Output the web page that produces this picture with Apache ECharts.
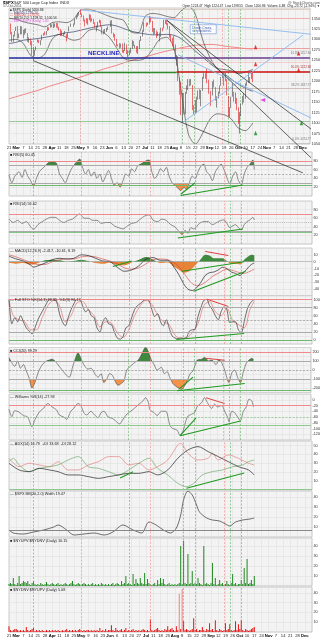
<!DOCTYPE html>
<html><head><meta charset="utf-8">
<script src="https://cdn.jsdelivr.net/npm/echarts@6/dist/echarts.min.js"></script>
<style>html,body{margin:0;padding:0;background:#fff}#c{width:323px;height:640px}</style>
</head><body><div id="c"></div>
<script>
// ---------- DATA ----------
// trading-day index: 5 per week, week 0 = week of 21 Feb 2011 (null = holiday)
const weekLabels = ['21','Mar','7','14','21','28','Apr','11','18','25','May','9','16','23','Jun','6','13','20','27','Jul','11','18','25','Aug','8','15','22','29','Sep','12','19','26','Oct','10','17','24','Nov','7','14','21','28','Dec',''];
const monthNames = ['Mar','Apr','May','Jun','Jul','Aug','Sep','Oct','Nov','Dec'];

const opens = [
 null,1338,1315,1307,1307, 1321,1328,1306,1312,1330, 1322,1311,1322,1315,1295, 1301,1295,1280,1262,1274,
 1293,1298,1293,1298,1311, 1315,1310,1320,1328,1329, 1333,1333,1333,1336,1334, 1329,1324,1314,1312,1314,
 1313,1305,1319,1330,null, 1337,1335,1348,1356,1360, 1365,1361,1356,1347,1343, 1340,1346,1358,1343,1349,
 1337,1328,1329,1341,1343, 1331,1317,1316,1321,1325, null,1331,1345,1314,1313, 1300,1286,1285,1280,1289,
 1271,1272,1287,1266,1268, 1272,1279,1296,1283,1283, 1268,1280,1297,1307,1321, null,1339,1338,1339,1353,
 1344,1319,1314,1318,1309, 1316,1306,1327,1326,1344, 1345,1337,1332,1305,1301, 1292,1287,1254,1260,1201,
 1199,1121,1172,1121,1172, 1179,1204,1193,1190,1141, 1124,1124,1162,1177,1159, 1177,1210,1213,1219,1204,
 null,1174,1166,1198,1186, 1154,1162,1173,1189,1209, 1214,1205,1203,1164,1136, 1137,1163,1175,1151,1160,
 1131,1098,1124,1144,1165, 1158,1195,1196,1207,1204, 1225];
const closes = [
 null,1315,1307,1306,1320, 1327,1306,1308,1331,1321, 1310,1322,1320,1295,1304, 1296,1282,1257,1274,1279,
 1298,1294,1298,1310,1314, 1310,1319,1328,1326,1332, 1333,1333,1336,1334,1328, 1324,1314,1314,1315,1320,
 1305,1313,1330,1337,null, 1335,1347,1356,1360,1364, 1361,1357,1347,1335,1340, 1346,1357,1342,1349,1338,
 1329,1329,1341,1344,1333, 1317,1316,1320,1326,1331, null,1345,1315,1313,1300, 1286,1285,1280,1289,1271,
 1272,1288,1265,1268,1272, 1278,1296,1287,1284,1268, 1280,1297,1307,1321,1340, null,1338,1339,1353,1344,
 1319,1314,1318,1309,1316, 1305,1327,1326,1344,1345, 1337,1332,1305,1301,1292, 1287,1254,1260,1200,1199,
 1119,1173,1121,1173,1179, 1204,1193,1194,1141,1124, 1124,1162,1178,1159,1177, 1210,1213,1219,1204,1174,
 null,1165,1199,1186,1154, 1162,1173,1189,1209,1216, 1204,1202,1167,1130,1136, 1163,1175,1151,1160,1131,
 1099,1124,1144,1165,1155, 1195,1196,1207,1204,1225, 1201];
const highs = [
 null,1338,1318,1311,1320, 1330,1332,1314,1332,1331, 1323,1325,1327,1315,1305, 1302,1296,1282,1275,1283,
 1300,1299,1298,1311,1315, 1319,1320,1330,1329,1338, 1336,1339,1338,1339,1339, 1330,1325,1321,1316,1320,
 1313,1315,1331,1338,null, 1338,1349,1357,1362,1365, 1371,1362,1357,1348,1351, 1350,1360,1359,1350,1349,
 1341,1333,1342,1347,1346, 1331,1323,1325,1327,1331, null,1345,1346,1316,1313, 1301,1288,1291,1290,1290,
 1275,1292,1288,1274,1275, 1280,1298,1296,1287,1284, 1284,1298,1308,1322,1341, null,1340,1340,1356,1354,
 1344,1327,1327,1321,1318, 1316,1328,1328,1347,1347, 1345,1339,1332,1312,1304, 1308,1288,1263,1260,1209,
 1199,1173,1172,1174,1190, 1205,1205,1205,1191,1143, 1155,1163,1178,1181,1179, 1210,1219,1219,1230,1204,
 null,1177,1200,1204,1186, 1164,1175,1190,1210,1217, 1214,1220,1205,1165,1138, 1163,1195,1175,1173,1160,
 1138,1126,1147,1165,1172, 1195,1200,1220,1210,1225, 1225];
const lows = [
 null,1312,1294,1294,1307, 1320,1302,1303,1312,1312, 1303,1311,1315,1294,1292, 1286,1262,1249,1261,1274,
 1293,1291,1286,1298,1309, 1310,1310,1320,1322,1328, 1329,1327,1329,1328,1326, 1321,1308,1309,1309,1312,
 1295,1305,1319,1330,null, 1330,1335,1348,1353,1357, 1359,1353,1343,1331,1338, 1335,1346,1341,1343,1337,
 1328,1319,1328,1339,1330, 1312,1312,1314,1318,1323, null,1330,1314,1305,1297, 1284,1283,1278,1280,1268,
 1268,1272,1265,1258,1262, 1267,1277,1284,1279,1268, 1265,1277,1296,1307,1318, null,1330,1334,1338,1341,
 1318,1312,1313,1303,1308, 1295,1306,1319,1326,1337, 1334,1324,1304,1295,1283, 1274,1252,1237,1200,1168,
 1119,1101,1121,1121,1170, 1179,1188,1190,1131,1121, 1122,1124,1156,1157,1140, 1177,1206,1206,1195,1170,
 null,1141,1166,1185,1154, 1137,1159,1170,1189,1207, 1189,1200,1166,1115,1114, 1136,1163,1151,1146,1131,
 1098,1075,1116,1144,1149, 1158,1189,1196,1196,1205, 1198];

// overlays sampled every 5 trading days
const ovIdx = [0,5,10,15,20,25,30,35,40,45,50,55,60,65,70,75,80,85,90,95,100,105,110,115,120,125,130,135,140,145,150,155,160,165,170];
const bbUpper = [1350,1348,1342,1338,1335,1330,1340,1342,1340,1348,1370,1372,1368,1362,1355,1350,1345,1318,1315,1355,1362,1360,1355,1352,1368,1380,1360,1300,1258,1232,1228,1225,1218,1222,1228];
const bbLower = [1298,1300,1290,1262,1255,1265,1300,1312,1305,1298,1302,1320,1325,1318,1305,1280,1255,1250,1250,1255,1275,1300,1305,1280,1180,1075,1050,1075,1108,1122,1120,1110,1088,1082,1100];
const ma50 = [1290,1293,1298,1300,1302,1305,1308,1312,1316,1318,1322,1326,1330,1333,1335,1332,1326,1320,1316,1313,1311,1311,1312,1310,1302,1288,1272,1258,1243,1230,1218,1205,1193,1183,1176];
const ma200 = [1158,1163,1168,1173,1178,1184,1190,1195,1200,1205,1210,1216,1222,1228,1233,1238,1244,1249,1254,1258,1263,1268,1272,1276,1280,1283,1286,1287,1288,1287,1284,1282,1280,1278,1277];

// horizontal levels (price)
const neckline = 1257;
const fibLevels = [1351, 1279, 1222, 1183, 1052];
const greenLevel = 1105;
const topLevel = 1371;

// trendlines [dayIndex, price]
const blackLine1 = [[17,1249],[205,981]];
const blackLine2 = [[110,1346],[211,1016]];
const blackLine3 = [[110,1346],[211,1085]];
const blueTop = [[50,1370.6],[217,1310]];
const blueDown = [[118,1263],[217,1102]];
const blueUp = [[121,1101],[205,1310]];
const redMarks = [[172,1241],[172,1282],[202,1267],[202,1227]];
const pinkMarks = [[177,1155]];
const greenMarks = [[204,1100],[172,1076]];

// vertical event lines
const vGreen = [17,83,121,129,153,161];
const vRed = [50,98,149];

// RSI(5)
const rsi5 = [[0,48],[2,30],[4,45],[7,55],[9,42],[11,60],[13,45],[15,35],[17,22],[19,40],[21,55],[23,62],[25,68],[27,75],[29,78],[31,77],[33,74],[35,50],[37,40],[39,30],[41,45],[43,60],[45,70],[47,78],[49,84],[51,65],[53,50],[55,60],[57,45],[59,55],[61,40],[63,50],[65,32],[67,45],[69,58],[71,40],[73,25],[75,30],[77,20],[79,35],[81,50],[83,45],[85,62],[87,55],[89,68],[91,72],[93,76],[95,80],[97,82],[99,55],[101,40],[103,48],[105,62],[107,55],[109,65],[111,45],[113,30],[115,25],[117,18],[119,12],[121,20],[123,15],[125,30],[127,45],[129,40],[131,55],[133,68],[135,72],[137,55],[139,48],[141,35],[143,55],[145,65],[147,72],[149,60],[151,42],[153,28],[155,45],[157,55],[159,35],[161,26],[163,50],[165,65],[167,72],[169,82],[170,60]];
// RSI(14)
const rsi14 = [[0,58],[3,50],[6,55],[9,48],[12,52],[15,40],[17,34],[20,45],[23,52],[26,58],[29,62],[32,62],[35,55],[38,50],[41,55],[44,58],[47,66],[49,70],[52,60],[55,60],[58,55],[61,55],[64,48],[67,50],[70,50],[73,42],[76,38],[79,35],[82,42],[85,48],[88,50],[91,58],[94,65],[97,68],[100,55],[103,52],[106,58],[109,55],[112,45],[115,40],[118,28],[120,22],[122,32],[124,25],[126,38],[128,35],[130,40],[132,48],[135,52],[138,52],[141,45],[144,50],[147,55],[149,56],[151,48],[153,38],[155,42],[157,45],[159,38],[161,33],[163,45],[165,52],[167,56],[169,62],[170,56]];
// MACD
const macdLine = [[0,8],[5,4],[10,1],[15,-5],[17,-8],[20,-6],[25,-2],[30,3],[35,5],[40,4],[45,5],[50,10],[55,9],[60,5],[65,1],[70,0],[75,-8],[80,-14],[85,-12],[90,-6],[95,4],[100,6],[105,2],[110,2],[115,-10],[118,-20],[121,-32],[124,-40],[127,-42],[130,-38],[133,-30],[136,-20],[139,-16],[142,-15],[145,-12],[148,-8],[151,-10],[154,-15],[157,-17],[160,-20],[163,-15],[166,-8],[168,-4],[170,-2]];
const macdSignal = [[0,10],[5,7],[10,3],[15,-1],[20,-4],[25,-4],[30,0],[35,3],[40,4],[45,4],[50,7],[55,8],[60,7],[65,4],[70,1],[75,-3],[80,-9],[85,-11],[90,-9],[95,-3],[100,3],[105,4],[110,3],[115,-2],[118,-8],[121,-16],[124,-25],[127,-32],[130,-35],[133,-34],[136,-30],[139,-25],[142,-20],[145,-17],[148,-13],[151,-11],[154,-12],[157,-14],[160,-16],[163,-17],[166,-15],[168,-13],[170,-11]];
const macdHist = [[0,-2],[5,-3],[10,-2],[15,-4],[17,-4],[20,-2],[25,2],[30,3],[35,2],[40,0],[45,1],[50,3],[55,1],[60,-2],[65,-3],[70,-1],[75,-5],[80,-5],[85,-1],[90,3],[95,7],[100,3],[105,-2],[110,-1],[115,-8],[118,-12],[121,-16],[124,-15],[127,-10],[130,-3],[133,4],[136,10],[139,9],[142,5],[145,5],[148,5],[151,1],[154,-3],[157,-3],[160,-4],[163,3],[166,8],[168,10],[170,9]];
// Full stochastics
const stoK = [[0,100],[2,40],[4,55],[6,45],[8,60],[10,45],[12,30],[14,22],[16,15],[18,30],[20,50],[23,70],[26,90],[28,100],[31,100],[33,95],[35,65],[37,45],[39,35],[41,55],[43,75],[45,90],[47,100],[49,100],[51,85],[53,70],[55,75],[57,60],[59,55],[61,30],[63,20],[65,45],[67,55],[69,40],[71,38],[73,20],[75,5],[77,2],[79,8],[81,30],[83,35],[85,55],[87,75],[89,85],[91,90],[93,97],[95,100],[97,98],[99,75],[101,58],[103,65],[105,45],[107,35],[109,50],[111,30],[113,10],[115,5],[117,3],[119,5],[121,4],[123,6],[125,22],[127,25],[129,27],[131,58],[133,80],[135,98],[137,100],[139,85],[141,75],[143,60],[145,50],[147,70],[149,82],[151,75],[153,43],[155,45],[157,45],[159,25],[161,18],[163,45],[165,75],[167,90],[169,98],[170,100]];
const stoD = [[0,98],[3,60],[7,50],[11,45],[15,25],[19,25],[23,55],[27,85],[31,98],[35,85],[39,45],[43,60],[47,92],[51,95],[55,75],[59,60],[63,32],[67,45],[71,42],[75,18],[79,6],[83,25],[87,60],[91,85],[95,98],[99,88],[103,62],[107,45],[111,38],[115,12],[119,4],[123,5],[127,18],[131,40],[135,85],[139,95],[143,70],[147,60],[151,78],[155,48],[159,38],[163,30],[167,75],[170,96]];
// CCI(20)
const cci = [[0,137],[2,80],[4,40],[6,100],[8,20],[10,60],[12,-10],[14,-90],[16,-200],[18,-140],[20,-40],[22,30],[25,90],[28,110],[30,120],[32,100],[35,40],[38,-20],[40,-60],[42,-80],[44,20],[46,120],[48,190],[50,130],[52,60],[55,10],[57,20],[60,-50],[62,-80],[64,-40],[66,-140],[68,-100],[70,-40],[72,-60],[74,-130],[76,-170],[78,-150],[80,-120],[82,0],[85,50],[88,90],[90,110],[93,200],[95,255],[97,200],[99,110],[101,60],[103,0],[106,30],[108,-40],[110,-20],[112,-90],[114,-150],[116,-180],[118,-200],[120,-215],[122,-180],[124,-120],[126,-40],[128,-10],[131,110],[134,120],[136,140],[139,100],[141,110],[144,60],[146,115],[148,80],[150,0],[153,-140],[155,-30],[157,0],[159,-80],[161,-140],[163,-20],[165,74],[167,110],[169,130],[170,115]];
// Williams %R
const willR = [[0,-33],[2,-59],[4,-38],[7,-43],[10,-55],[13,-60],[16,-94],[18,-70],[21,-43],[24,-30],[27,-13],[30,-25],[33,-35],[35,-53],[38,-60],[40,-68],[43,-40],[45,-30],[48,-13],[50,-20],[52,-45],[54,-53],[57,-40],[59,-50],[62,-63],[64,-45],[66,-40],[69,-60],[72,-65],[74,-73],[77,-84],[79,-70],[82,-50],[86,-35],[90,-17],[93,-5],[95,7],[97,-10],[98,-35],[101,-45],[103,-55],[106,-40],[109,-40],[112,-90],[114,-100],[117,-106],[119,-125],[121,-110],[124,-60],[127,-50],[129,-45],[131,-23],[134,-10],[136,7],[138,-10],[141,-30],[143,-15],[145,-25],[148,-20],[150,-40],[152,-60],[153,-76],[155,-40],[157,-45],[159,-60],[161,-73],[163,-40],[165,-25],[167,2],[169,-5],[170,-25]];
// ADX
const adx = [[0,30],[7,22.5],[14,20.6],[21,24.3],[28,22.5],[34,20.6],[41,16.9],[48,16.9],[55,15],[62,13.1],[69,15],[76,16.9],[83,18.7],[90,18.7],[97,20.6],[103,16.9],[110,22.5],[117,35.6],[124,44.9],[131,48.7],[138,43.1],[145,37.5],[152,31.8],[159,26.2],[166,22.5],[170,16.9]];
const plusDI = [[0,31.8],[3,35.6],[7,28.1],[14,20.6],[21,24.3],[28,26.2],[34,28.1],[41,33.7],[48,37.5],[55,26.2],[62,24.3],[69,20.6],[76,16.9],[83,22.5],[90,30],[97,35.6],[103,24.3],[110,16.9],[117,7.5],[123,3.7],[128,7.5],[134,16.9],[141,20.6],[148,22.5],[155,26.2],[162,28.1],[166,31.8],[170,33.7]];
const minusDI = [[0,35.6],[7,26.2],[14,30],[21,28.1],[28,26.2],[34,31.8],[41,22.5],[48,22.5],[55,28.1],[62,31.8],[69,37.5],[76,37.5],[83,28.1],[90,30],[97,22.5],[103,26.2],[110,33.7],[117,50.6],[119,52.4],[124,41.2],[131,33.7],[138,35.6],[141,41.2],[145,33.7],[152,39.4],[159,35.6],[166,30],[170,28.1]];
// Bollinger BandWidth
const bbWidth = [[0,7],[3,4],[10,3],[17,5],[24,7],[31,10],[34,12],[40,7],[45,2],[52,3],[59,4],[66,2],[72,5],[79,12],[86,7],[92,4],[97,15],[102,12],[107,7],[112,4],[116,9],[119,22],[121,37],[124,46],[127,42],[130,32],[132,25],[137,19],[141,17],[146,16],[150,13],[153,11],[157,15],[162,17],[167,18],[170,19]];
// breadth ratios (daily)
const upRatio = [2,3,2,8,2,1,3,10,2,3, 5,4,3,5,2,1,3,5,2,1, 2,1,3,2,1,2,4,2,1,2, 3,2,1,2,3,1,2,1,2,3, 2,1,2,3,5,2,1,2,3,2, 1,2,3,2,1,2,1,2,3,1, 2,1,2,1,3,2,1,2,1,2, 1,2,3,1,2,3,2,1,5,2, 3,10,2,3,2,1,12,2,7,3, 2,8,3,2,13,2,7,3,2,1, 2,3,1,6,2,8,3,7,2,1, 2,3,1,2,1,2,1,2,3,40, 2,45,3,2,32,2,3,15,2,3, 2,8,3,2,1,40,2,3,2,1, 3,23,2,8,1,2,6,2,3,1, 2,5,2,1,3,12,2,3,1,2, 2,6,2,18,3,27,2,3,6,2, 10];
const downRatio = [6,2,1,2,3,3,2,1,2,1, 2,1,5,2,1,2,3,4,1,2, 1,2,1,2,1,1,2,1,2,1, 2,1,2,1,2,1,1,2,1,2, 3,1,2,1,2,1,2,1,2,3, 2,1,2,1,2,2,1,2,1,2, 1,2,1,4,1,2,1,3,1,2, 2,7,2,1,4,2,1,2,3,1, 2,4,1,2,1,2,3,1,2,1, 2,1,2,3,2,1,2,1,13,2, 1,2,3,4,2,1,2,1,3,2, 6,2,3,4,2,1,6,2,39,3, 44,11,2,3,2,1,2,3,14,2, 3,1,2,2,5,2,1,3,2,9, 2,3,1,12,2,1,3,2,1,2, 9,2,3,8,2,1,2,11,2,8, 3,12,2,1,3,2,1,2,3,4, 5];

// divergence lines [dayIndex, value]
const divRsi5 = [[[119,1],[162,25]],[[119,4],[129,30]]];
const divRsi14 = [[[117,14],[162,35]]];
const divMacdG = [[[128,-43],[164,-14]],[[120,-14],[163,0]],[[72,-7],[85,1]]];
const divMacdR = [[[136,15],[152,9]]];
const divStoG = [[[116,1],[163,16]]];
const divStoR = [[[137,101],[152,83]]];
const divCciG = [[[117,-230],[164,-150]],[[118,-215],[128,-80]]];
const divCciR = [[[137,130],[150,108]]];
const divWillG = [[[119,-125],[161,-74]],[[119,-125],[130,-64]]];
const divWillR = [[[137,7],[150,-13]]];
const divAdxG = [[[123,2],[163,19]],[[77,13.5],[86,20.6]]];

// ---------- LAYOUT ----------
const FONT = 'Liberation Sans';
const P = [
 {top:8,h:136,min:1050,max:1375,iv:25,lab:25},
 {top:152,h:44,min:0,max:100,iv:20,lab:20},
 {top:201,h:43,min:0,max:100,iv:20,lab:20},
 {top:248,h:48,min:-50,max:20,iv:10,lab:10},
 {top:295.5,h:48.5,min:-10,max:110,iv:10,lab:20},
 {top:347.5,h:45,min:-250,max:250,iv:50,lab:100},
 {top:394,h:46,min:-140,max:20,iv:20,lab:20},
 {top:441,h:49,min:0,max:55,iv:10,lab:10},
 {top:491,h:46,min:0,max:46,iv:10,lab:10},
 {top:538,h:48,min:0,max:48,iv:10,lab:10},
 {top:587,h:45,min:0,max:46,iv:10,lab:10}
];
const grid = P.map(p=>({left:9,right:11,top:p.top,height:p.h,show:true,backgroundColor:'#f3f3f3',borderColor:'#9a9a9a',borderWidth:0.5}));
const xAxis = P.map((p,k)=>({
  type:'value',gridIndex:k,min:0,max:210,interval:5,
  axisLine:{show:false},axisTick:{show:false},
  splitLine:{show:true,lineStyle:{color:'#dcdcdc',width:0.5}},
  axisLabel:{show:(k===0||k===10),margin:1.5,fontSize:4.2,fontFamily:FONT,color:'#222',
    formatter:v=>{const s=weekLabels[Math.round(v/5)]||'';return monthNames.includes(s)?'{b|'+s+'}':s;},
    rich:{b:{fontWeight:'bold',fontSize:4.2,fontFamily:FONT,color:'#000'}}}
}));
const yAxis = P.map((p,k)=>({
  type:'value',gridIndex:k,position:'right',min:p.min,max:p.max,interval:p.iv,
  axisLine:{show:false},axisTick:{show:false},
  splitLine:{show:true,lineStyle:{color:'#dcdcdc',width:0.5}},
  axisLabel:{fontSize:3.8,fontFamily:FONT,color:'#333',margin:1.5,showMinLabel:k===0,showMaxLabel:false,
    formatter:v=>(Math.abs(v%p.lab)<1e-9?String(v):'')}
}));

const series = [];
const visualMap = [];
function vmarks(){
  return vGreen.map(v=>({xAxis:v,lineStyle:{color:'#5cab5c',type:[2,1.5],width:0.6}}))
   .concat(vRed.map(v=>({xAxis:v,lineStyle:{color:'#ee8a8a',type:[2,1.5],width:0.6}})));
}
function helper(k, extra){
  series.push({type:'line',xAxisIndex:k,yAxisIndex:k,data:[[0,P[k].min]],symbol:'none',silent:true,
    lineStyle:{opacity:0},z:1,
    markLine:{silent:true,symbol:['none','none'],label:{show:false},animation:false,
      data:vmarks().concat(extra||[])}});
}
function hl(v,color,width,type){return {yAxis:v,lineStyle:{color:color,width:width,type:type||'solid'}};}
function seg(a,b,v,color,width){return [{coord:[a,v],lineStyle:{color:color,width:width,type:'solid'}},{coord:[b,v]}];}
function line(k,data,color,width,extra){
  series.push(Object.assign({type:'line',xAxisIndex:k,yAxisIndex:k,data:data,symbol:'none',smooth:0.3,
    lineStyle:{color:color,width:width},silent:true,z:3,animation:false},extra||{}));
}
function segs(k,list,color,width){list.forEach(d=>line(k,d,color,width,{smooth:false,z:6,clip:false}));}
function fill(k,data,hi,lo,origin,up,dn){
  const idx=series.length;
  series.push({type:'line',xAxisIndex:k,yAxisIndex:k,data:data,symbol:'none',smooth:0.3,silent:true,z:2,
    lineStyle:{width:0},areaStyle:{origin:origin,opacity:1},animation:false});
  visualMap.push({type:'piecewise',show:false,seriesIndex:idx,dimension:1,
    pieces:[{gt:hi,color:up},{gt:lo,lte:hi,color:'rgba(0,0,0,0)'},{lte:lo,color:dn}]});
}
const GREENF='#3f8a3f', ORANGEF='#f4924a';

// ----- panel 0: price -----
helper(0,[
  hl(greenLevel,'#7fbf7f',0.8),
  seg(50,210,topLevel,'#d9b9a0',0.6),
  seg(98,210,fibLevels[0],'#f4a0a0',0.8),
  seg(0,117,fibLevels[1],'#8fc88f',0.8), seg(117,210,fibLevels[1],'#f08a8a',0.8),
  seg(0,117,neckline,'#22289a',1.6), seg(117,210,neckline,'#6a3d8f',1.6),
  seg(0,117,1245,'#b0c8b0',0.6), seg(117,210,1245,'#f2b0b0',0.6),
  seg(0,117,fibLevels[2],'#2e8b2e',1.4), seg(117,210,fibLevels[2],'#cc1111',1.6),
  seg(121,210,fibLevels[3],'#c9b0a8',0.8),
  seg(195,210,fibLevels[4],'#bbbbbb',0.6)
]);
const ov = arr=>ovIdx.map((x,j)=>[x,arr[j]]);
line(0,ov(ma200),'#f07878',0.9);
line(0,ov(ma50),'#5a6585',0.9);
line(0,ov(bbUpper),'#333',0.6);
line(0,ov(bbLower),'#333',0.6);
segs(0,[blueTop,blueDown,blueUp],'#8ab8ee',0.9);
segs(0,[blackLine1,blackLine2,blackLine3],'#222',0.7);
const candles=[];
for(let i=0;i<closes.length;i++){ if(closes[i]!=null) candles.push([i,opens[i],closes[i],lows[i],highs[i]]); }
series.push({type:'candlestick',xAxisIndex:0,yAxisIndex:0,data:candles,barWidth:1.2,z:5,silent:true,animation:false,
  dimensions:['t','open','close','lowest','highest'],encode:{x:'t',y:['open','close','lowest','highest']},
  itemStyle:{color:'#ffffff',color0:'#e4141b',borderColor:'#444',borderColor0:'#e4141b',borderWidth:0.6}});
series.push({type:'scatter',xAxisIndex:0,yAxisIndex:0,data:redMarks,symbol:'triangle',symbolSize:[3.5,4.5],itemStyle:{color:'#e01010'},z:8,silent:true});
series.push({type:'scatter',xAxisIndex:0,yAxisIndex:0,data:pinkMarks,symbol:'triangle',symbolRotate:90,symbolSize:[4,5],itemStyle:{color:'#e020e0'},z:8,silent:true});
series.push({type:'scatter',xAxisIndex:0,yAxisIndex:0,data:greenMarks,symbol:'triangle',symbolSize:[3.5,4.5],itemStyle:{color:'#108a10'},z:8,silent:true});

// ----- panel 1: RSI(5) -----
helper(1,[hl(80,'#f08a8a',1),hl(70,'#aaaaaa',1),hl(50,'#888',0.6,[2,1.5]),hl(30,'#aaaaaa',1),hl(25,'#6cb86c',1)]);
fill(1,rsi5,70,30,50,GREENF,ORANGEF);
line(1,rsi5,'#444',0.6);
segs(1,divRsi5,'#1f9a1f',1.1);
// ----- panel 2: RSI(14) -----
helper(2,[hl(70,'#f08a8a',1),hl(50,'#888',0.6,[1,1.2]),hl(30,'#aaaaaa',1),hl(28,'#6cb86c',0.8)]);
fill(2,rsi14,70,30,50,GREENF,ORANGEF);
line(2,rsi14,'#444',0.6);
segs(2,divRsi14,'#1f9a1f',1.1);
// ----- panel 3: MACD -----
helper(3,[hl(0,'#999',0.5)]);
fill(3,macdHist,0,-0.0001,0,'#3f8a3f','#e8843a');
line(3,macdSignal,'#d04040',0.6);
line(3,macdLine,'#222',0.7);
segs(3,divMacdG,'#1f9a1f',1.1);
segs(3,divMacdR,'#e04040',1);
// ----- panel 4: Stochastics -----
helper(4,[hl(100,'#f08a8a',1),hl(80,'#aaaaaa',1),hl(50,'#888',0.6,[2,1.5]),hl(20,'#aaaaaa',1),hl(0,'#6cb86c',1)]);
line(4,stoD,'#e06060',0.6);
line(4,stoK,'#333',0.7);
segs(4,divStoG,'#1f9a1f',1.1);
segs(4,divStoR,'#e04040',1);
// ----- panel 5: CCI -----
helper(5,[hl(200,'#f08a8a',1),hl(100,'#aaaaaa',1),hl(0,'#888',0.6,[2,1.5]),hl(-100,'#aaaaaa',1),hl(-230,'#6cb86c',1)]);
fill(5,cci,100,-100,0,GREENF,ORANGEF);
line(5,cci,'#444',0.6);
segs(5,divCciG,'#1f9a1f',1.1);
segs(5,divCciR,'#e04040',1);
// ----- panel 6: Williams %R -----
helper(6,[hl(-20,'#f08a8a',1),hl(-60,'#8fc88f',0.8,[2,1.5]),hl(-90,'#8fc88f',1)]);
line(6,willR,'#444',0.6);
segs(6,divWillG,'#1f9a1f',1.1);
segs(6,divWillR,'#e04040',1);
// ----- panel 7: ADX -----
helper(7,[hl(1,'#8fc88f',1)]);
line(7,minusDI,'#e07070',0.6);
line(7,plusDI,'#5aa05a',0.6);
line(7,adx,'#222',0.7);
segs(7,divAdxG,'#1f9a1f',1.1);
// ----- panel 8: BB width -----
helper(8,[hl(7,'#888',1)]);
line(8,bbWidth,'#333',0.7);
// ----- panel 9/10: breadth bars -----
helper(9);
series.push({type:'bar',xAxisIndex:9,yAxisIndex:9,data:upRatio.map((v,i)=>[i,v]),barWidth:1,silent:true,z:3,
  itemStyle:{color:'#1f8a1f'},animation:false});
helper(10);
series.push({type:'bar',xAxisIndex:10,yAxisIndex:10,data:downRatio.map((v,i)=>[i,v]),barWidth:1,silent:true,z:3,
  itemStyle:{color:p=>p.value[1]>30?'#f08080':'#e81010'},animation:false});

// ---------- TEXT ----------
const t=(x,y,s,o)=>Object.assign({type:'text',left:x,top:y,silent:true,z:50,style:Object.assign({text:s,fontSize:3.8,fontFamily:FONT,fill:'#222'},o||{})});
const tr=(x,y,s,o)=>({type:'text',right:x,top:y,silent:true,z:50,style:Object.assign({text:s,fontSize:3.6,fontFamily:FONT,fill:'#222'},o||{})});
const graphic=[
 t(3,0.5,'$SPX',{fontWeight:'bold',fontSize:4.2,fill:'#000'}),
 t(14,0.8,'S&P 500 Large Cap Index  INDX',{fontSize:3.8}),
 t(3,4.5,'17-Oct-2011',{fontSize:3.4,fill:'#444'}),
 tr(3,0.8,'@ StockCharts.com',{fontSize:3.6,fill:'#555'}),
 tr(3,4.6,'Open 1224.47  High 1224.47  Low 1198.55  Close 1200.86  Volume 4.4B  Chg -23.72 (-1.94%) ▼',{fontSize:3.2}),
 t(10,8.5,'■ $SPX (Daily) 1200.86',{fontSize:3.2}),
 t(10,11.2,'— MA(50) 1,176.10',{fontSize:3.2,fill:'#3a4a80'}),
 t(10,13.9,'— MA(200) 1,276.95',{fontSize:3.2,fill:'#e05050'}),
 t(10,16.6,'— BB(20,2.0) 1,228.32, 1,100.56',{fontSize:3.2,fill:'#222'}),
 t(10,19.3,'— $SPX:$SPX (Daily) 1.00',{fontSize:3.2,fill:'#e050e0'}),
 t(88,50.5,'NECKLINE',{fontSize:6.2,fontWeight:'bold',fill:'#2a2ac0'}),
 {type:'group',left:190,top:24.5,silent:true,z:60,children:[
   {type:'rect',shape:{x:0,y:0,width:26,height:9},style:{fill:'#ffffff',stroke:'#5a7ad0',lineWidth:0.5}},
   {type:'text',style:{x:2,y:1,text:'Death Cross,\nvery bearish.',fontSize:3.4,lineHeight:3.7,fontFamily:FONT,fill:'#2a4ab0'}}
 ]},
 tr(12,66,'50.0% 1222.68',{fontSize:3,fill:'#a33'}),
 tr(12,51.5,'61.8% 1257.60',{fontSize:3,fill:'#777'}),
 tr(12,84,'38.2% 1187.77',{fontSize:3,fill:'#777'}),
 tr(12,138,'0.0% 1074.77',{fontSize:3,fill:'#777'}),
 t(10,153,'■ RSI(5) 60.45'),
 t(10,202,'■ RSI(14) 56.62'),
 t(10,249,'— MACD(12,26,9) -2.417, -10.61, 8.19'),
 t(10,297.5,'— Full STO %K(14,3) 98.85, %D(3) 96.17'),
 t(10,348.5,'■ CCI(20) 99.29'),
 t(10,395,'— Williams %R(14) -27.93'),
 t(10,442,'— ADX(14) 16.79  +DI 33.68  -DI 28.12'),
 t(10,492,'— $SPX BB(20,2.0) Width 19.47'),
 t(10,539,'■ $NYUPV:$NYDNV (Daily) 10.15'),
 t(10,588,'■ $NYDNV:$NYUPV (Daily) 5.08')
];

const chart = echarts.init(document.getElementById('c'),null,{renderer:'canvas'});
chart.setOption({animation:false,backgroundColor:'#ffffff',grid,xAxis,yAxis,series,visualMap,graphic});
</script></body></html>
